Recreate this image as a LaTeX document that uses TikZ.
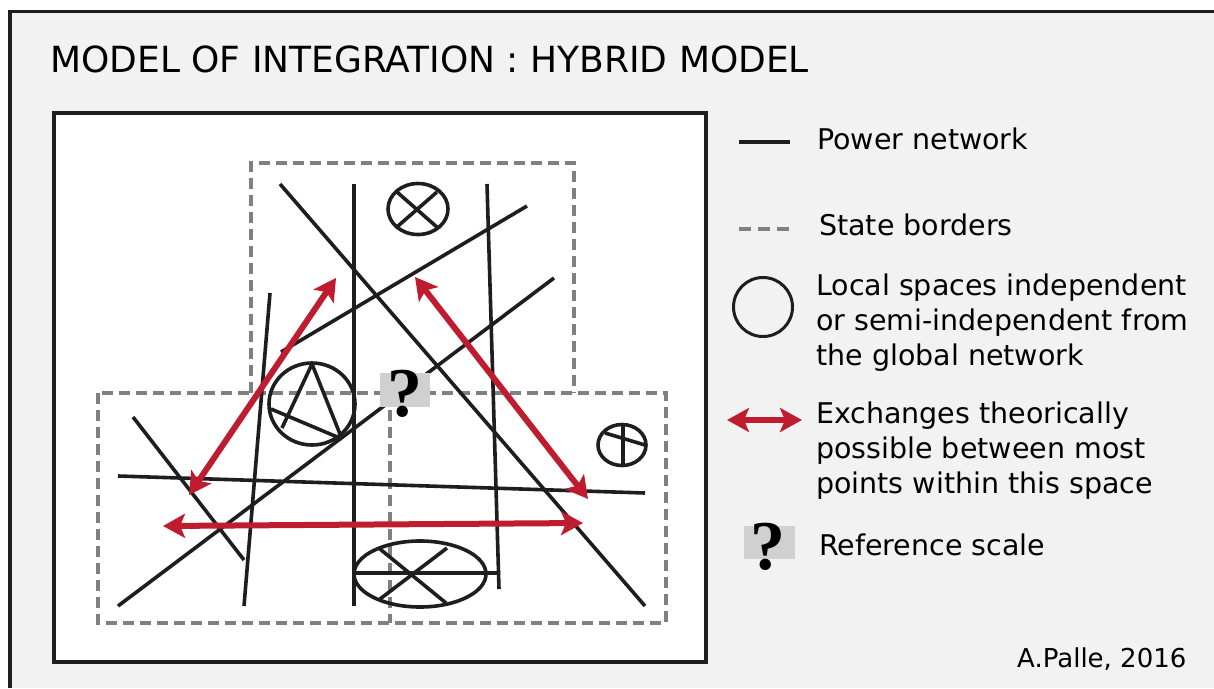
\documentclass[tikz,border=0pt]{standalone}
\usepackage{fontspec}
\setsansfont{DejaVu Sans}
\newfontfamily\qfont{Liberation Serif}
\usepackage{tikz}
\usetikzlibrary{positioning,arrows.meta}
\definecolor{xred}{RGB}{192,28,48}
\definecolor{bggray}{RGB}{242,242,242}
\definecolor{bordergray}{RGB}{128,128,128}
\definecolor{qgray}{RGB}{208,208,208}
\definecolor{ink}{RGB}{30,30,30}
\tikzset{grid/.style={draw=ink, line width=3.6pt}}

\begin{document}
\begin{tikzpicture}[x=1pt, y=-1pt,
  border/.style = {draw=bordergray, line width=3.4pt, dash pattern=on 11pt off 6pt},
  xchg/.style = {draw=xred, line width=6pt, {Stealth[length=22pt,width=24pt,inset=5pt]}-{Stealth[length=22pt,width=24pt,inset=5pt]}},
  legend/.style = {anchor=base west, inner sep=0, font=\sffamily\fontsize{28.5}{34}\selectfont},
  qmark/.style = {anchor=base, inner sep=0, font=\qfont\bfseries\fontsize{70}{70}\selectfont}]
\useasboundingbox (0,0) rectangle (1214,688);
% frame
\fill[bggray] (10,11.5) rectangle (1214,688);
\draw[ink, line width=3.5pt] (10,688) -- (10,11.5) -- (1214,11.5);
\node[anchor=base west, inner sep=0, font=\sffamily\fontsize{36}{40}\selectfont] (title) at (50,72) {MODEL OF INTEGRATION : HYBRID MODEL};
\draw[ink, line width=3.5pt, fill=white] (54,113) rectangle (706,662);
% state borders
\draw[border] (251,393) -- (251,163) -- (574,163) -- (574,393);
\draw[border] (98,393) rectangle (666,623);
\draw[border] (390,393) -- (390,623);
% power network
\draw[grid] (280,184) -- (645,606);
\draw[grid] (354,184) -- (354,606);
\draw[grid] (487,184) -- (499,589);
\draw[grid] (281,352) -- (527,206);
\draw[grid] (554,278) -- (118,606);
\draw[grid] (270,293) -- (244,606);
\draw[grid] (133,417) -- (244,560);
\draw[grid] (118,476) -- (645,493);
% local spaces
\draw[grid] (418,209) ellipse [x radius=30, y radius=25.5];
\draw[grid] (397,192) -- (438,228) (398,226) -- (437,192);
\draw[grid] (312,404) ellipse [x radius=43, y radius=41];
\draw[grid] (312,364) -- (282,428) (312,364) -- (342,439) (271,409) -- (342,439);
\draw[grid] (622,445) ellipse [x radius=24, y radius=20.5];
\draw[grid] (623,425) -- (623,465) (605,433) -- (645,445);
\draw[grid] (420,574) ellipse [x radius=66, y radius=33];
\draw[grid] (354,573) -- (500,573) (380,549) -- (446,603) (380,599) -- (447,548);
% exchanges
\coordinate (a1) at (189,495);
\coordinate (a2) at (336,278);
\coordinate (b1) at (415,277);
\coordinate (b2) at (588,499);
\coordinate (c1) at (163,526);
\coordinate (c2) at (583,523);
\draw[xchg] (a1) -- (a2);
\draw[xchg] (b1) -- (b2);
\draw[xchg] (c1) -- (c2);
% reference scale
\fill[qgray] (380,373) rectangle (430,407);
\node[qmark] (q) at (405,416) {?};
% legend
\draw[ink, line width=3.5pt] (739,142) -- (790,142);
\node[legend] (l1) at (817,149) {Power network};
\draw[bordergray, line width=3.4pt, dash pattern=on 12pt off 7pt] (739,229) -- (790,229);
\node[legend] (l2) at (819,235) {State borders};
\draw[ink, line width=3pt] (763,307) circle [radius=29.5];
\node[legend] (l3) at (816,295) {Local spaces independent};
\node[legend] (l4) at (816,330) {or semi-independent from};
\node[legend] (l5) at (816,365) {the global network};
\coordinate (d1) at (727,420);
\coordinate (d2) at (802,420);
\draw[xchg] (d1) -- (d2);
\node[legend] (l6) at (816,423) {Exchanges theorically};
\node[legend] (l7) at (816,458) {possible between most};
\node[legend] (l8) at (816,493) {points within this space};
\fill[qgray] (744,526) rectangle (795,559);
\node[qmark] (q2) at (768,569) {?};
\node[legend] (l9) at (819,555) {Reference scale};
\node[legend, font=\sffamily\fontsize{26}{30}\selectfont] (sig) at (1017,667) {A.Palle, 2016};
\end{tikzpicture}
\end{document}
